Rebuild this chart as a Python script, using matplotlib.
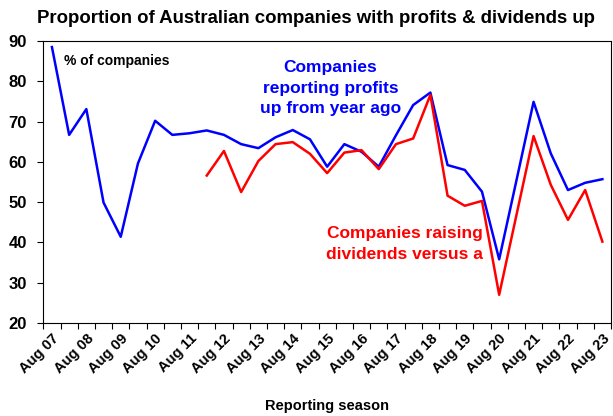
import matplotlib.pyplot as plt
import numpy as np

plt.rcParams['font.family'] = ['Liberation Sans', 'DejaVu Sans']
plt.rcParams['font.weight'] = 'bold'

# semi-annual reporting seasons, Aug 07 .. Aug 23
periods = []
for yr in range(7, 24):
    if yr > 7:
        periods.append('Feb %02d' % yr)
    periods.append('Aug %02d' % yr)

# % of companies reporting profits up from year ago
profits_up = [88.5, 66.7, 73.1, 49.9, 41.4, 59.6, 70.2, 66.7, 67.1, 67.8,
              66.7, 64.4, 63.4, 66.1, 67.9, 65.6, 58.8, 64.4, 62.5, 58.8,
              66.6, 74.1, 77.2, 59.2, 58.0, 52.6, 35.8, 55.3, 74.9, 62.1,
              53.0, 54.8, 55.7]

# % of companies raising dividends (starts Feb 12)
div_start = 9
dividends_up = [56.6, 62.7, 52.5, 60.2, 64.4, 64.9, 62.0, 57.2, 62.3, 62.9,
                58.2, 64.4, 65.8, 76.6, 51.6, 49.1, 50.3, 27.0, 46.7, 66.4,
                54.3, 45.6, 53.0, 40.2]

fig = plt.figure(figsize=(6.13, 4.16), dpi=100)
ax = fig.add_axes([0.0707, 0.2236, 0.926, 0.6778])

x = np.arange(len(periods))
ax.plot(x, profits_up, color='#0000FF', lw=1.8)
ax.plot(x[div_start:div_start + len(dividends_up)], dividends_up, color='#FF0000', lw=1.8)

ax.set_xlim(-0.5, len(periods) - 0.5)
ax.set_ylim(20, 90)
ax.set_yticks(range(20, 91, 10))
ax.tick_params(axis='y', labelsize=12, length=4, width=0.8, pad=8)

aug_idx = [i for i, p in enumerate(periods) if p.startswith('Aug')]
ax.set_xticks(aug_idx)
ax.set_xticklabels([periods[i] for i in aug_idx], rotation=45, ha='right',
                   rotation_mode='anchor', fontsize=10.5)
ax.tick_params(axis='x', length=0, pad=6)
ax.set_xticks(np.arange(-0.5, len(periods), 1), minor=True)
ax.tick_params(axis='x', which='minor', length=4, width=0.8)

for s in ax.spines.values():
    s.set_linewidth(0.8)

ax.set_xlabel('Reporting season', fontsize=10.5, fontweight='bold', labelpad=17)

ax.text(0.036, 0.955, '% of companies', transform=ax.transAxes, fontsize=10,
        ha='left', va='top')
ax.text(16.2, 78.3, 'Companies\nreporting profits\nup from year ago', color='#0000FF',
        fontsize=12.5, ha='center', va='center', linespacing=1.45)
ax.text(20.5, 39.6, 'Companies raising\ndividends versus a', color='#FF0000',
        fontsize=12.5, ha='center', va='center', linespacing=1.45)

fig.text(0.06, 0.955, 'Proportion of Australian companies with profits & dividends up',
         fontsize=13.4, ha='left', va='center')

fig.savefig('out.png', dpi=100)
